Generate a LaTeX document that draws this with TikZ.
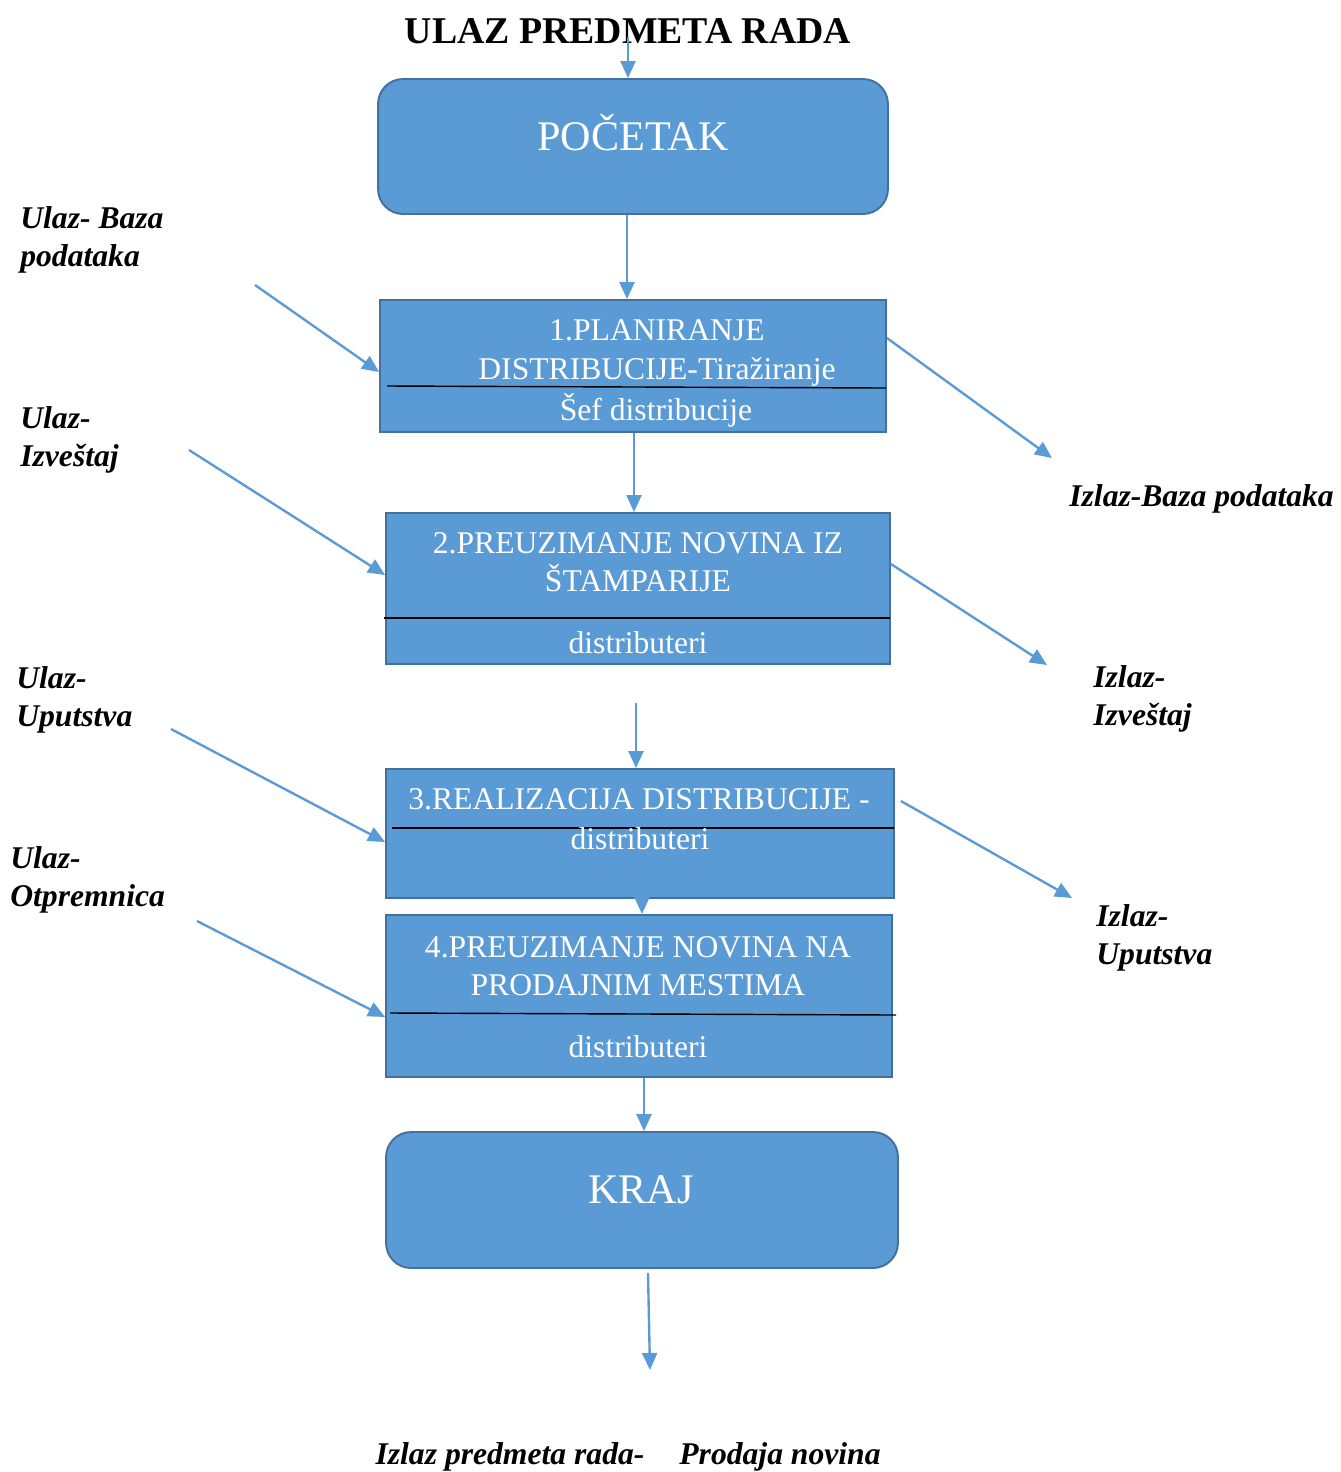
\documentclass[tikz,border=0pt]{standalone}
\usepackage{fontspec}
\setmainfont{Liberation Serif}
\usetikzlibrary{arrows.meta}

\definecolor{boxblue}{HTML}{5B9BD5}
\definecolor{boxedge}{HTML}{41719C}

\tikzset{
	block/.style = {draw = boxedge, line width = 1.1pt, fill = boxblue},
	roundblock/.style = {block, rounded corners = 0.5cm},
	boxtext/.style = {text = white, align = center, font = \fontsize{18}{22}\selectfont},
	sidetext/.style = {anchor = west, align = left, inner sep = 0pt, font = \fontsize{18}{22}\selectfont\bfseries\itshape},
	flow/.style = {draw = boxblue, line width = 1.35pt, -{Triangle[length = 0.34cm, width = 0.3cm]}},
	divider/.style = {black, line width = 0.8pt}
}

\begin{document}
\begin{tikzpicture}[x = 0.02cm, y = -0.02cm]
\useasboundingbox (0,0) rectangle (1341,1472);

\node[font = \fontsize{21.5}{25}\selectfont\bfseries] (title) at (628,31) {ULAZ PREDMETA RADA};

% blocks
\node[roundblock, minimum width = 10.2cm, minimum height = 2.7cm] (start) at (633,146.5) {};
\node[block, minimum width = 10.12cm, minimum height = 2.64cm] (plan) at (633,366) {};
\node[block, minimum width = 10.08cm, minimum height = 3.02cm] (print) at (638,588.5) {};
\node[block, minimum width = 10.16cm, minimum height = 2.58cm] (real) at (640,833.5) {};
\node[block, minimum width = 10.12cm, minimum height = 3.24cm] (sale) at (639,996) {};
\node[roundblock, minimum width = 10.24cm, minimum height = 2.72cm] (finish) at (642,1200) {};

\draw[divider] (387,386) -- (886,388);
\draw[divider] (384,618) -- (890,618);
\draw[divider] (392,828) -- (894,828);
\draw[divider] (390,1013) -- (896,1015);

\node[boxtext, font = \fontsize{24}{28}\selectfont] (starttext) at (633,133) {POČETAK};
\node[boxtext] (plantext) at (657,353) {1.PLANIRANJE\\DISTRIBUCIJE-Tiražiranje};
\node[boxtext] (planwho) at (656,410) {Šef distribucije};
\node[boxtext] (printtext) at (638,562) {2.PREUZIMANJE NOVINA IZ\\ŠTAMPARIJE};
\node[boxtext] (printwho) at (638,643) {distributeri};
\node[boxtext] (realtext) at (639,799) {3.REALIZACIJA DISTRIBUCIJE -};
\node[boxtext] (realwho) at (640,839) {distributeri};
\node[boxtext] (saletext) at (638,966) {4.PREUZIMANJE NOVINA NA\\PRODAJNIM MESTIMA};
\node[boxtext] (salewho) at (638,1047) {distributeri};
\node[boxtext, font = \fontsize{24}{28}\selectfont] (finishtext) at (641,1190) {KRAJ};

% main flow
\coordinate (titlefoot) at (628,37);
\coordinate (gapstart) at (636,703);
\coordinate (outend) at (650,1370);
\draw[flow] (titlefoot) -- (titlefoot |- start.north);
\draw[flow] ([xshift = -0.12cm]start.south) -- ([xshift = -0.12cm]start.south |- plan.north);
\draw[flow] ([xshift = 0.02cm]plan.south) -- ([xshift = 0.02cm]plan.south |- print.north);
\draw[flow] (gapstart) -- (gapstart |- real.north);
\draw[flow] ([xshift = 0.04cm]real.south) -- ([xshift = 0.04cm]real.south |- sale.north);
\draw[flow] ([xshift = 0.1cm]sale.south) -- ([xshift = 0.1cm]sale.south |- finish.north);
\draw[flow] ([xshift = 0.12cm, yshift = -0.08cm]finish.south) -- (outend);

% inputs
\coordinate (in1) at (255,285);
\coordinate (in2) at (189,450);
\coordinate (in3) at (171,729);
\coordinate (in4) at (197,921);
\draw[flow] (in1) -- ([yshift = -0.12cm]plan.west);
\draw[flow] (in2) -- ([yshift = 0.27cm]print.west);
\draw[flow] (in3) -- ([yshift = -0.17cm]real.west);
\draw[flow] (in4) -- ([yshift = -0.42cm]sale.west);

% outputs
\coordinate (out1) at (1052,458);
\coordinate (out2) at (1047,665);
\coordinate (out3) at (1072,898);
\draw[flow] ([yshift = 0.56cm]plan.east) -- (out1);
\draw[flow] ([yshift = 0.49cm]print.east) -- (out2);
\draw[flow] ([xshift = 0.12cm, yshift = 0.65cm]real.east) -- (out3);

\node[sidetext] (inbase) at (20,240) {Ulaz- Baza\\podataka};
\node[sidetext] (inrep) at (20,440) {Ulaz-\\Izveštaj};
\node[sidetext] (inman) at (16,700) {Ulaz-\\Uputstva};
\node[sidetext] (inship) at (10,880) {Ulaz-\\Otpremnica};
\node[sidetext] (outbase) at (1069,499) {Izlaz-Baza podataka};
\node[sidetext] (outrep) at (1093,699) {Izlaz-\\Izveštaj};
\node[sidetext] (outman) at (1096,938) {Izlaz-\\Uputstva};
\node[sidetext, anchor = center] (outobj) at (510,1457) {Izlaz predmeta rada-};
\node[sidetext, anchor = center] (outsale) at (780,1457) {Prodaja novina};
\end{tikzpicture}
\end{document}
